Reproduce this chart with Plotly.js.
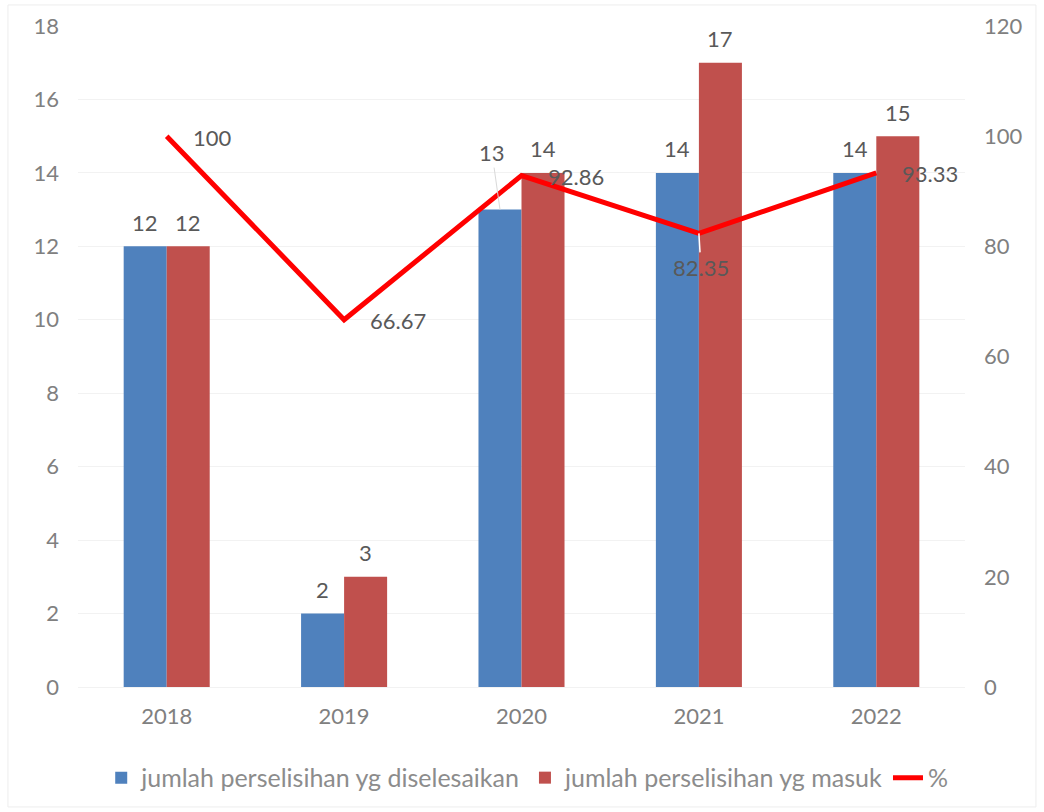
<!DOCTYPE html>
<html>
<head>
<meta charset="utf-8">
<script src="https://cdn.plot.ly/plotly-3.0.1.min.js"></script>
<style>
  body { margin: 0; background: #fff; }
  #chart { width: 1044px; height: 812px; }
</style>
</head>
<body>
<div id="chart"></div>
<script>
// chart values
const years = ['2018', '2019', '2020', '2021', '2022'];
const selesai = [12, 2, 13, 14, 14];
const masuk = [12, 3, 14, 17, 15];
const persen = [100, 66.67, 92.86, 82.35, 93.33];

const FONT = 'Lato, "Open Sans", sans-serif';
const LABEL = '#595959';
const TICK = '#808080';

const barSelesai = {
    x: years,
    y: selesai,
    type: 'bar',
    name: 'jumlah perselisihan yg diselesaikan',
    marker: {color: '#4F81BD'},
    hoverinfo: 'y'
};

const barMasuk = {
    x: years,
    y: masuk,
    type: 'bar',
    name: 'jumlah perselisihan yg masuk',
    marker: {color: '#C0504D'},
    hoverinfo: 'y'
};

const linePersen = {
    x: years,
    y: persen,
    type: 'scatter',
    mode: 'lines',
    name: '%',
    yaxis: 'y2',
    line: {color: '#FF0000', width: 5}
};

// data labels (x given as category index, so the year strings aren't read as numbers)
const labelFont = {family: FONT, size: 22, color: LABEL};
let annotations = [];

selesai.forEach((v, i) => {
    let a = {
        x: i, y: v, xref: 'x', yref: 'y',
        text: String(v), font: labelFont,
        xshift: -21.5, yshift: 24, showarrow: false,
        xanchor: 'center', yanchor: 'middle'
    };
    // 2020 label was dragged up in the original, with a leader line
    if (years[i] === '2020') {
        a.yshift = 0;
        a.showarrow = true;
        a.arrowhead = 0;
        a.arrowwidth = 1;
        a.arrowcolor = '#D9D9D9';
        a.ax = -8;
        a.ay = -57;
        a.standoff = 0;
    }
    annotations.push(a);
});

masuk.forEach((v, i) => {
    annotations.push({
        x: i, y: v, xref: 'x', yref: 'y',
        text: String(v), font: labelFont,
        xshift: 21.5, yshift: 24, showarrow: false,
        xanchor: 'center', yanchor: 'middle'
    });
});

persen.forEach((v, i) => {
    let a = {
        x: i, y: v, xref: 'x', yref: 'y2',
        text: String(v), font: labelFont,
        xshift: 24, yshift: -1, showarrow: false,
        xanchor: 'left', yanchor: 'middle'
    };
    if (years[i] === '2021') {
        a.xshift = 0;
        a.yshift = 0;
        a.xanchor = 'center';
        a.showarrow = true;
        a.arrowhead = 0;
        a.arrowwidth = 1.5;
        a.arrowcolor = '#ffffff';
        a.ax = 2;
        a.ay = 34;
        a.standoff = 0;
    }
    annotations.push(a);
});

const layout = {
    width: 1044,
    height: 812,
    margin: {l: 78, r: 79, t: 26, b: 125},
    paper_bgcolor: '#ffffff',
    plot_bgcolor: '#ffffff',
    font: {family: FONT, size: 22, color: LABEL},
    barmode: 'group',
    bargap: 0.515,
    bargroupgap: 0,
    showlegend: true,
    legend: {
        orientation: 'h',
        xref: 'container', yref: 'container',
        x: 0.505, xanchor: 'center',
        y: 0.042, yanchor: 'middle',
        font: {family: FONT, size: 25, color: '#8C8C8C'},
        traceorder: 'normal',
        itemwidth: 30
    },
    xaxis: {
        type: 'category',
        range: [-0.5, years.length - 0.5],
        tickfont: {family: FONT, size: 22, color: TICK},
        showgrid: false,
        showline: true,
        linecolor: '#F2F2F2',
        ticks: '',
        ticklabelstandoff: 10
    },
    yaxis: {
        range: [0, 18],
        dtick: 2,
        tickfont: {family: FONT, size: 22, color: TICK},
        gridcolor: '#F2F2F2',
        zeroline: false,
        ticks: '',
        ticklabelstandoff: 18
    },
    yaxis2: {
        overlaying: 'y',
        side: 'right',
        range: [0, 120],
        dtick: 20,
        tickfont: {family: FONT, size: 22, color: TICK},
        showgrid: false,
        zeroline: false,
        ticks: '',
        ticklabelstandoff: 18
    },
    annotations: annotations,
    shapes: [{
        type: 'rect', xref: 'paper', yref: 'paper',
        x0: -0.079, x1: 1.080, y0: -0.1815, y1: 1.0318,
        line: {color: '#EDEDED', width: 1}
    }]
};

Plotly.newPlot('chart', [barSelesai, barMasuk, linePersen], layout, {displayModeBar: false});
</script>
</body>
</html>
